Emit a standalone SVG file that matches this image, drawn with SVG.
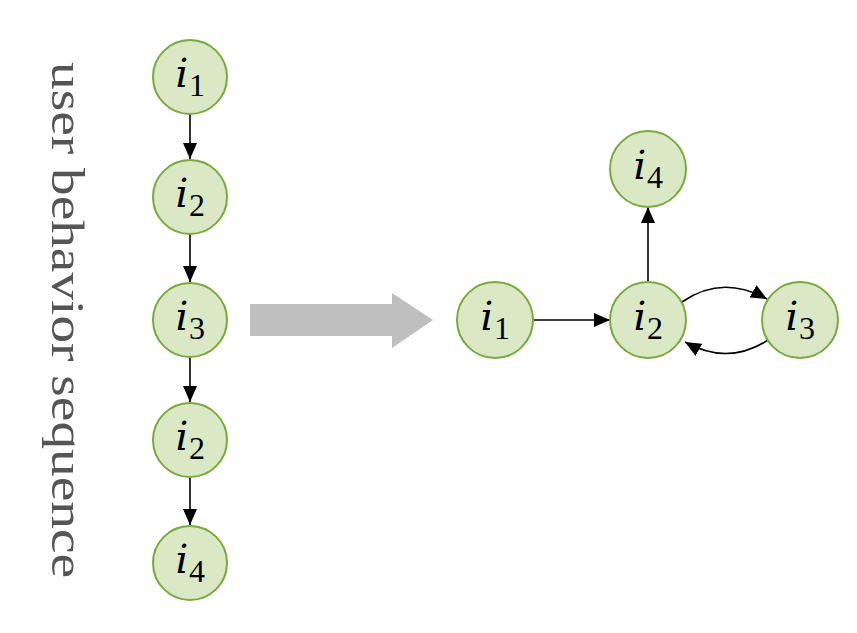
<svg xmlns="http://www.w3.org/2000/svg" width="857" height="633" viewBox="0 0 857 633">
<style>
.node circle{fill:#DAE8C6;stroke:#79AA3C;stroke-width:2}
.v{font-family:"DejaVu Serif",serif;font-style:italic;font-size:40px;fill:#000;text-anchor:middle}
.s{font-family:"Liberation Serif",serif;font-size:32px;fill:#000;text-anchor:middle}
.edge{fill:none;stroke:#000;stroke-width:1.6;marker-end:url(#ah)}
.title{font-family:"Liberation Serif",serif;font-size:46px;fill:#555;text-anchor:middle}
</style>
<defs>
<marker id="ah" markerUnits="userSpaceOnUse" markerWidth="17" markerHeight="14" refX="16" refY="7" orient="auto">
<path d="M0,0 L16,7 L0,14 z" fill="#000"/>
</marker>
</defs>
<text class="title" transform="translate(52,320) rotate(90)" textLength="516" lengthAdjust="spacingAndGlyphs">user behavior sequence</text>
<polygon id="bigarrow" points="250,304 392,304 392,293 433,320 392,348 392,336 250,336" fill="#BFBFBF"/>
<g id="connectors">
<line class="edge" x1="190" y1="114" x2="190" y2="159"/>
<line class="edge" x1="190" y1="234" x2="190" y2="282"/>
<line class="edge" x1="190" y1="357" x2="190" y2="402"/>
<line class="edge" x1="190" y1="477" x2="190" y2="525"/>
<line class="edge" x1="533" y1="320" x2="610" y2="320"/>
<line class="edge" x1="648" y1="282" x2="648" y2="207"/>
<path class="edge" d="M682,302 Q722,274 767,299"/>
<path class="edge" d="M768,340 Q728,366 685,342"/>
</g>
<g id="L1" class="node"><circle cx="190" cy="77" r="37"/><text class="v" x="182" y="87">i</text><text class="s" x="197" y="96">1</text></g>
<g id="L2" class="node"><circle cx="190" cy="197" r="37"/><text class="v" x="182" y="207">i</text><text class="s" x="197" y="216">2</text></g>
<g id="L3" class="node"><circle cx="190" cy="320" r="37"/><text class="v" x="182" y="330">i</text><text class="s" x="197" y="339">3</text></g>
<g id="L4" class="node"><circle cx="190" cy="440" r="37"/><text class="v" x="182" y="450">i</text><text class="s" x="197" y="459">2</text></g>
<g id="L5" class="node"><circle cx="190" cy="563" r="37"/><text class="v" x="182" y="573">i</text><text class="s" x="197" y="582">4</text></g>
<g id="R1" class="node"><circle cx="495" cy="320" r="38"/><text class="v" x="487" y="330">i</text><text class="s" x="502" y="339">1</text></g>
<g id="R2" class="node"><circle cx="648" cy="320" r="38"/><text class="v" x="640" y="330">i</text><text class="s" x="655" y="339">2</text></g>
<g id="R3" class="node"><circle cx="800" cy="320" r="38"/><text class="v" x="792" y="330">i</text><text class="s" x="807" y="339">3</text></g>
<g id="R4" class="node"><circle cx="648" cy="169" r="38"/><text class="v" x="640" y="179">i</text><text class="s" x="655" y="188">4</text></g>
</svg>
